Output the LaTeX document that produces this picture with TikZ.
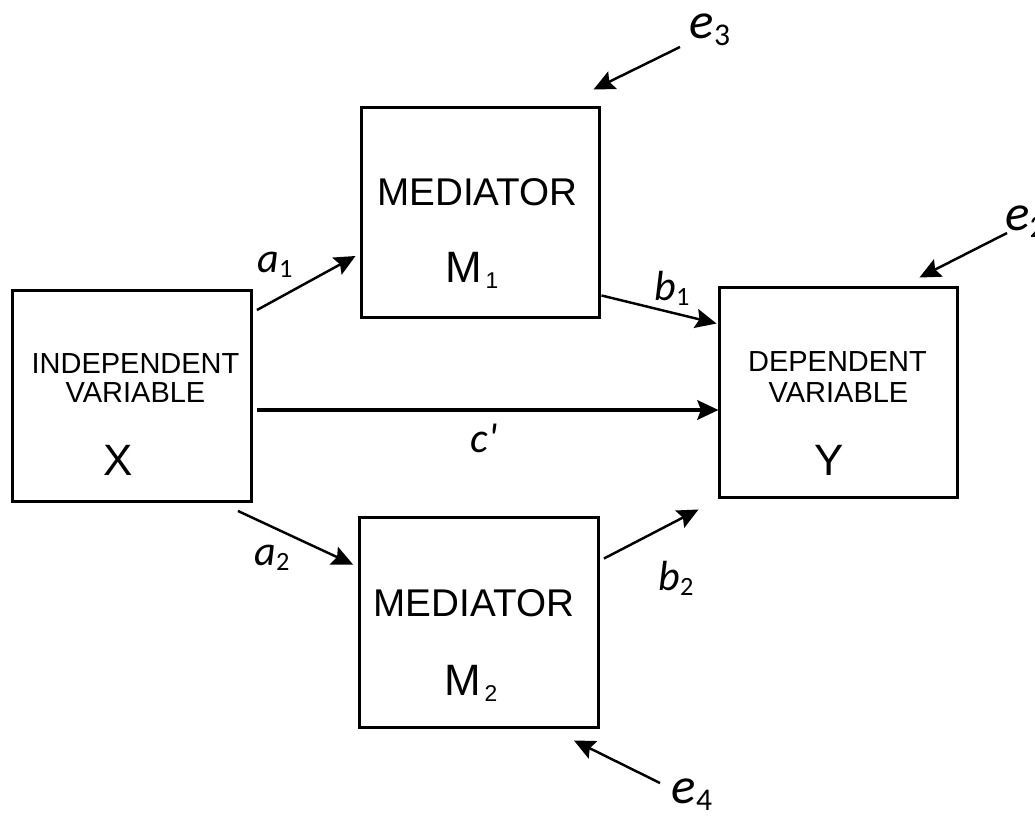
\documentclass[tikz,border=0pt]{standalone}
\usepackage{fontspec}
\setmainfont{Liberation Sans}
\newfontfamily\lblfont{Carlito}
\usetikzlibrary{calc,arrows.meta}
\tikzstyle{varbox} = [rectangle, draw=black, line width=1.7pt, minimum width=4.78cm, minimum height=4.22cm]
\tikzstyle{hdtext} = [font=\fontsize{16.5}{17}\selectfont, inner sep=0pt]
\tikzstyle{medtext} = [font=\fontsize{22}{24}\selectfont, inner sep=0pt]
\tikzstyle{lettext} = [font=\fontsize{25}{28}\selectfont, inner sep=0pt]
\tikzstyle{coeftext} = [font=\lblfont\fontsize{24}{26}\selectfont, inner sep=0pt]
\tikzstyle{errtext} = [font=\lblfont\fontsize{29}{30}\selectfont, inner sep=0pt]
\tikzstyle{arrow} = [line width=1.4pt, -{Stealth[length=12pt,width=11pt,inset=2pt]}]
% letter with a small lowered index
\newcommand{\coefl}[2]{\textit{#1}\raisebox{-3pt}{\fontsize{15}{16}\selectfont #2}}
\newcommand{\errl}[2]{\textit{#1}\raisebox{-4pt}{\fontsize{18}{19}\selectfont #2}}
\newcommand{\medl}[1]{M\kern2pt\raisebox{-3.4pt}{\fontsize{13}{14}\selectfont #1}}

\begin{document}
\begin{tikzpicture}[x=0.02cm, y=0.02cm]
  \useasboundingbox (0,0) rectangle (1035,816);
  % the four boxes
  \node (x)[varbox] at (132,420) {};
  \node (m1)[varbox] at (480.5,603.5) {};
  \node (m2)[varbox] at (479,193.5) {};
  \node (y)[varbox] at (838.5,423.5) {};
  % box texts
  \node (xt1)[hdtext] at ($(x)+(3.5,32)$) {INDEPENDENT};
  \node (xt2)[hdtext] at ($(x)+(3.5,3)$) {VARIABLE};
  \node (xt3)[lettext] at ($(x)+(-13.5,-64)$) {X};
  \node (yt1)[hdtext] at ($(y)+(-1,30.5)$) {DEPENDENT};
  \node (yt2)[hdtext] at ($(y)+(0,-0.5)$) {VARIABLE};
  \node (yt3)[lettext] at ($(y)+(-9,-67.5)$) {Y};
  \node (m1t1)[medtext] at ($(m1)+(-3,20.5)$) {MEDIATOR};
  \node (m1t2)[lettext] at ($(m1)+(-8.5,-57.5)$) {\medl{1}};
  \node (m2t1)[medtext] at ($(m2)+(-5,19.5)$) {MEDIATOR};
  \node (m2t2)[lettext] at ($(m2)+(-8,-60.5)$) {\medl{2}};
  % path labels
  \node (a1)[coeftext] at (275,551) {\coefl{a}{1}};
  \node (b1)[coeftext] at (672,528) {\coefl{b}{1}};
  \node (a2)[coeftext] at (272,258) {\coefl{a}{2}};
  \node (b2)[coeftext] at (676,238) {\coefl{b}{2}};
  \node (c)[coeftext] at (484,378) {\textit{c\textquotesingle}};
  \node (e3)[errtext] at (710,786) {\errl{e}{3}};
  \node (e2)[errtext, anchor=west] at (1005,594) {\errl{e}{2}};
  \node (e4)[errtext] at (692,21) {\errl{e}{4}};
  % paths
  \draw[arrow] ($(x.north east)+(4,-21)$) -- ($(m1.west)+(-4,-43.5)$);
  \draw[arrow] ($(m1.south east)+(0,24)$) -- ($(y.north west)+(-1,-38)$);
  \draw[arrow, line width=2.3pt] ($(x.east)+(4,-14)$) -- ($(y.west)+(1,-17.5)$);
  \draw[arrow] ($(x.south east)+(-15,-8)$) -- ($(m2.north west)+(-5,-49)$);
  \draw[arrow] ($(m2.north east)+(4,-43)$) -- ($(y.south west)+(-19,-10)$);
  % error terms
  \draw[arrow] ($(e3)+(-30,-17)$) -- ($(m1.north east)+(-8,16)$);
  \draw[arrow] ($(e2.west)+(2,-11)$) -- ($(y.north east)+(-40,8)$);
  \draw[arrow] ($(e4)+(-32,12)$) -- ($(m2.south east)+(-26,-11)$);
\end{tikzpicture}
\end{document}
